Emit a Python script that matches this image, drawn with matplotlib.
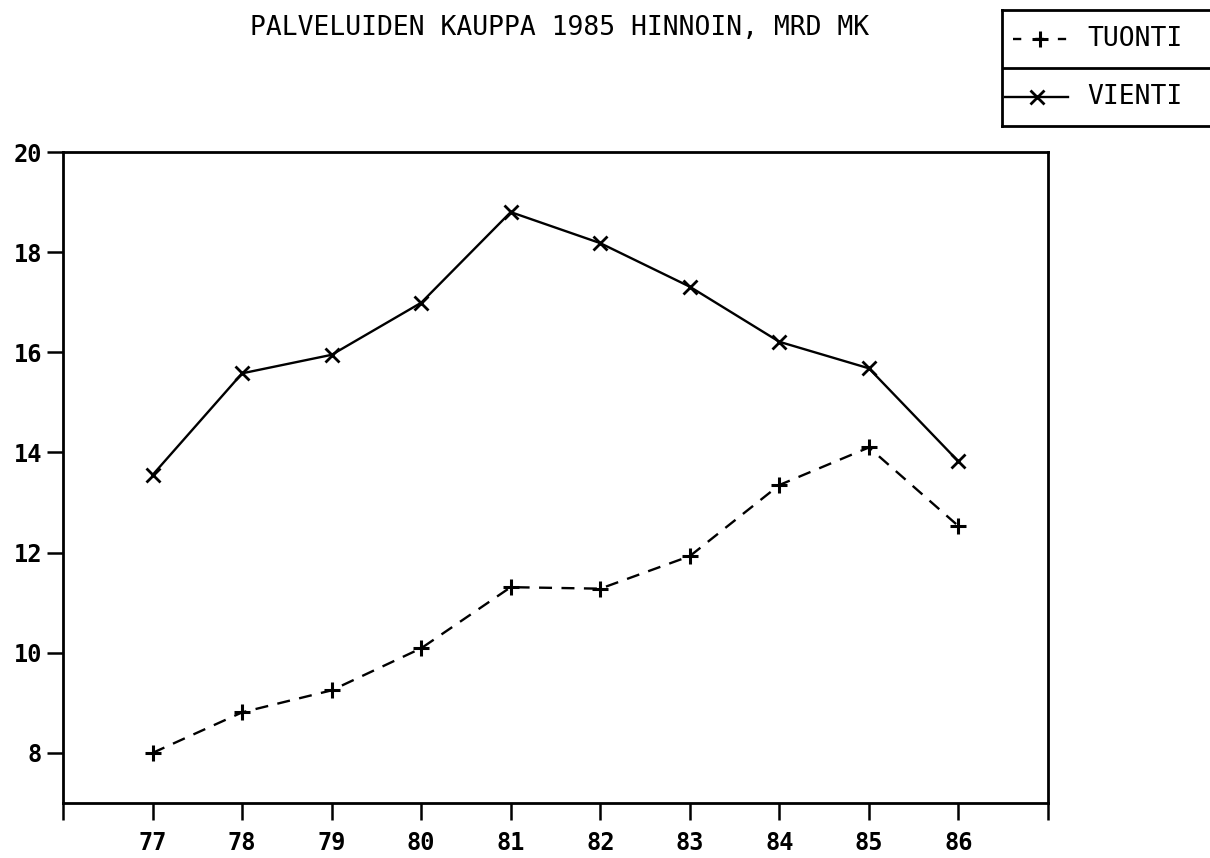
import matplotlib
matplotlib.use("Agg")
import matplotlib.pyplot as plt
from matplotlib.lines import Line2D

years = [77, 78, 79, 80, 81, 82, 83, 84, 85, 86]
tuonti = [8.0, 8.81, 9.25, 10.09, 11.31, 11.28, 11.93, 13.35, 14.10, 12.53]
vienti = [13.55, 15.58, 15.95, 16.99, 18.80, 18.18, 17.31, 16.21, 15.68, 13.82]
xticks_all = list(range(76, 88))
xtick_labels = ["" if y in (76, 87) else str(y) for y in xticks_all]
yticks = [8, 10, 12, 14, 16, 18, 20]
title = "PALVELUIDEN KAUPPA 1985 HINNOIN, MRD MK"
legend_labels = ["TUONTI", "VIENTI"]

MONO = ["DejaVu Sans Mono"]

W, H = 1210, 858
fig = plt.figure(figsize=(W / 100, H / 100), dpi=100)
fig.patch.set_facecolor("white")

ax = fig.add_axes([63 / W, 55 / H, (1048 - 63) / W, (803 - 152) / H])
ax.plot(years, tuonti, color="black", lw=1.7, linestyle=(0, (5.5, 4)),
        marker="+", markersize=11, markeredgewidth=2.2)
ax.plot(years, vienti, color="black", lw=1.7, linestyle="-",
        marker="x", markersize=10.5, markeredgewidth=2.0)

ax.set_xlim(76, 87)
ax.set_ylim(7, 20)
ax.set_xticks(xticks_all)
ax.set_xticklabels(xtick_labels)
ax.set_yticks(yticks)
ax.set_yticklabels([str(v) for v in yticks])
for s in ax.spines.values():
    s.set_linewidth(2.0)
ax.tick_params(axis="x", direction="out", length=12, width=1.8, pad=8,
               labelsize=17)
ax.tick_params(axis="y", direction="out", length=11.5, width=1.8, pad=3.5,
               labelsize=17)
for lab in ax.get_xticklabels() + ax.get_yticklabels():
    lab.set_family(MONO)
    lab.set_fontweight("bold")

fig.text(560 / W, 1 - 28 / H, title, ha="center", va="center",
         fontsize=19, family=MONO)

# legend box (custom, two rows separated by a rule)
lx0, ly_top, ly_bot = 1002, 10, 126
lw_px = 1216 - lx0
lh_px = ly_bot - ly_top
lax = fig.add_axes([lx0 / W, 1 - ly_bot / H, lw_px / W, lh_px / H])
lax.set_xlim(0, lw_px)
lax.set_ylim(lh_px, 0)
lax.set_xticks([])
lax.set_yticks([])
for s in lax.spines.values():
    s.set_linewidth(2.0)
lax.axhline(58, color="black", lw=2.0)
lax.patch.set_alpha(0)

lax.add_line(Line2D([11, 38, 65], [29, 29, 29], color="black", lw=1.7,
                    linestyle=(0, (3.5, 6)), marker="+", markersize=11,
                    markeredgewidth=2.2, markevery=[1]))
lax.add_line(Line2D([3, 35, 66], [87, 87, 87], color="black", lw=1.7,
                    linestyle="-", marker="x", markersize=10.5,
                    markeredgewidth=2.0, markevery=[1]))
lax.text(85, 29, legend_labels[0], ha="left", va="center", fontsize=19,
         family=MONO)
lax.text(85, 87, legend_labels[1], ha="left", va="center", fontsize=19,
         family=MONO)

fig.savefig("out.png", dpi=100, facecolor="white")
